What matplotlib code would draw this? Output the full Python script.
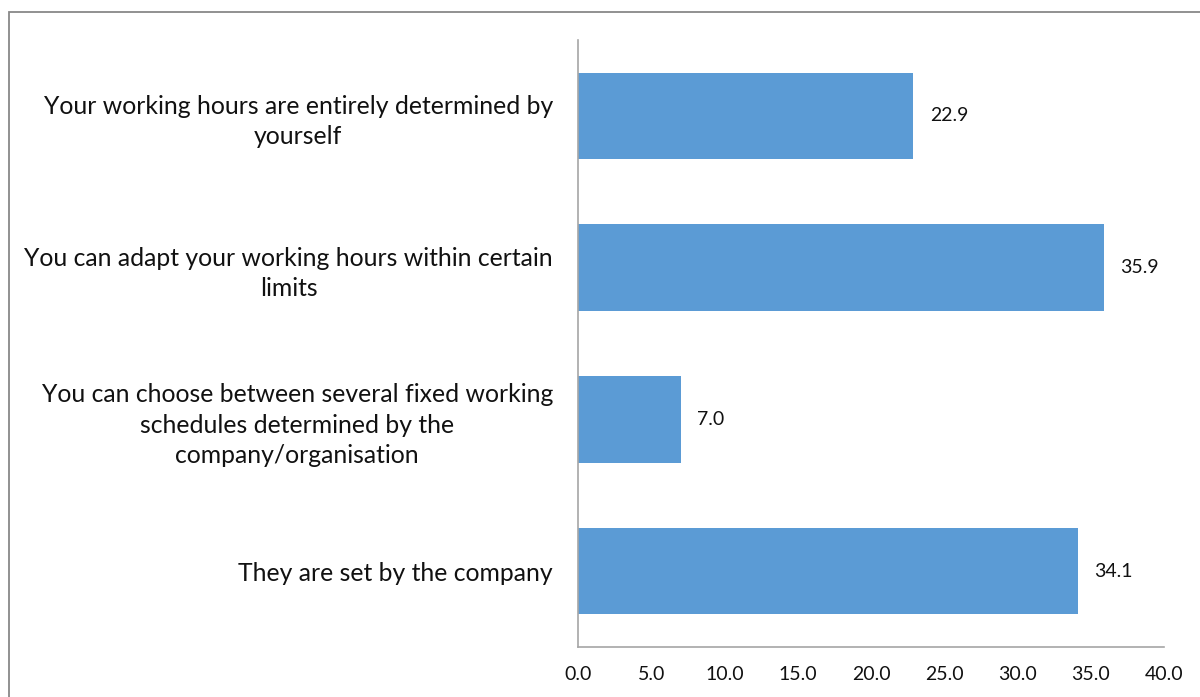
import matplotlib
matplotlib.use("Agg")
import matplotlib.pyplot as plt
from matplotlib.patches import Rectangle

categories = [
    "Your working hours are entirely determined by\nyourself",
    "You can adapt your working hours within certain\nlimits",
    "You can choose between several fixed working\nschedules determined by the\ncompany/organisation",
    "They are set by the company",
]
values = [22.9, 35.9, 7.0, 34.1]
xticks = [0, 5, 10, 15, 20, 25, 30, 35, 40]

plt.rcParams["font.family"] = ["Lato", "DejaVu Sans"]

fig = plt.figure(figsize=(12, 6.97), dpi=100)
ax = fig.add_axes([578 / 1200, 1 - 647 / 697, (1164 - 578) / 1200, (647 - 40) / 697])

pos = list(range(len(categories)))
ax.barh(pos, values, height=0.57, color="#5B9BD5")
ax.set_ylim(len(categories) - 0.5, -0.5)
ax.set_xlim(0, 40)

ax.set_yticks(pos)
ax.set_yticklabels(categories, fontsize=17.8, multialignment="center",
                   color="#111111", linespacing=1.4)
ax.set_xticks(xticks)
ax.set_xticklabels([f"{t:.1f}" for t in xticks], fontsize=14, color="#111111")
ax.tick_params(axis="y", length=0, pad=18)
ax.tick_params(axis="x", length=0, pad=14)

for s in ["top", "right"]:
    ax.spines[s].set_visible(False)
for s in ["left", "bottom"]:
    ax.spines[s].set_color("#A6A6A6")
    ax.spines[s].set_linewidth(1.2)

for y, v in zip(pos, values):
    ax.annotate(f"{v:.1f}", (v, y), xytext=(12, 0), textcoords="offset points",
                va="center", ha="left", fontsize=14, color="#111111")

fig.patches.append(Rectangle((9 / 1200, -0.1), 1.2, 1 - 12 / 697 + 0.1,
                             transform=fig.transFigure, fill=False,
                             edgecolor="#888888", linewidth=1.3))

fig.savefig("out.png", dpi=100)
